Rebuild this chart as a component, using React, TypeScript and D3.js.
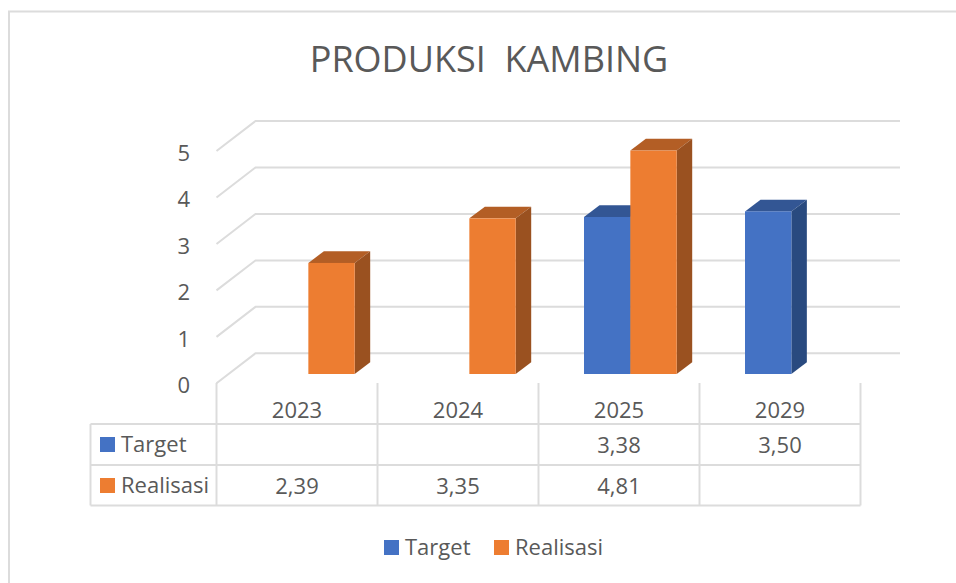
import React from "react";
import * as d3 from "d3";

const categories = ["2023", "2024", "2025", "2029"];
const seriesNames = ["Target", "Realisasi"];
const target = [null, null, 3.38, 3.5];
const realisasi = [2.39, 3.35, 4.81, null];
const tickValues = [0, 1, 2, 3, 4, 5];
const tableTarget = ["", "", "3,38", "3,50"];
const tableRealisasi = ["2,39", "3,35", "4,81", ""];

const colors = ["#4472C4", "#ED7D31"];
const topColors = ["#335694", "#B35E25"];
const sideColors = ["#294A7F", "#9A5120"];
const gridColor = "#DCDCDC";
const textColor = "#595959";
const font = "'Open Sans', 'Noto Sans', sans-serif";

export default function App() {
  const width = 956;
  const height = 583;

  // front edge of the 3D floor
  const x = d3.scaleBand().domain(categories).range([216.5, 860.5]);
  const x1 = d3.scaleBand().domain(seriesNames).range([45.5, 138.2]);
  const y = d3.scaleLinear().domain([0, 5]).range([383.3, 151]);

  // wall offset and bar depth
  const wallX = 39;
  const wallY = -30;
  const depthX = 15.5;
  const depthY = -11.7;
  const barShift = -9.3;

  const tableLeft = 90.5;
  const rows = [424, 465, 505.5];

  const bars = [target, realisasi].flatMap((values, s) =>
    values.map((v, i) => ({ v, s, cat: categories[i] })).filter((d) => d.v !== null)
  );

  return (
    <svg
      width={width}
      height={height}
      style={{ position: "absolute", left: 0, top: 0, background: "#fff" }}
      fontFamily={font}
    >
      {/* frame */}
      <path d={`M956,11.5H9V583`} fill="none" stroke={gridColor} strokeWidth={2} />

      <text x={489} y={72} textAnchor="middle" fontSize={36} fill={textColor} style={{ whiteSpace: "pre" }}>
        PRODUKSI  KAMBING
      </text>

      {/* wall gridlines */}
      {tickValues.map((t) => (
        <path
          key={t}
          d={`M${x.range()[0]},${y(t)}L${x.range()[0] + wallX},${y(t) + wallY}H900`}
          fill="none"
          stroke={gridColor}
          strokeWidth={2}
        />
      ))}

      {tickValues.map((t) => (
        <text key={t} x={190} y={y(t) + 10} textAnchor="end" fontSize={22} fill={textColor}>
          {t}
        </text>
      ))}

      {/* bars */}
      {bars.map((d) => {
        const x0 = x(d.cat)! + x1(seriesNames[d.s])!;
        const w = x1.bandwidth();
        const base = y(0) + barShift;
        const top = y(d.v as number) + barShift;
        return (
          <g key={`${d.s}-${d.cat}`}>
            <path
              d={`M${x0},${top}l${depthX},${depthY}h${w}l${-depthX},${-depthY}z`}
              fill={topColors[d.s]}
            />
            <path
              d={`M${x0 + w},${top}l${depthX},${depthY}V${base + depthY}l${-depthX},${-depthY}z`}
              fill={sideColors[d.s]}
            />
            <rect x={x0} y={top} width={w} height={base - top} fill={colors[d.s]} />
          </g>
        );
      })}

      {/* data table */}
      {[...x.domain().map((c) => x(c)!), x.range()[1]].map((xv, i) => (
        <line key={i} x1={xv} x2={xv} y1={383} y2={rows[2]} stroke={gridColor} strokeWidth={2} />
      ))}
      <line x1={tableLeft} x2={tableLeft} y1={rows[0]} y2={rows[2]} stroke={gridColor} strokeWidth={2} />
      {rows.map((r) => (
        <line key={r} x1={tableLeft} x2={x.range()[1]} y1={r} y2={r} stroke={gridColor} strokeWidth={2} />
      ))}

      {categories.map((c) => (
        <text key={c} x={x(c)! + x.bandwidth() / 2} y={418} textAnchor="middle" fontSize={22} fill={textColor}>
          {c}
        </text>
      ))}
      {[tableTarget, tableRealisasi].map((vals, s) => (
        <g key={s}>
          <rect x={100} y={rows[s] + 13} width={15} height={15} fill={colors[s]} />
          <text x={121} y={rows[s] + 28} fontSize={22} fill={textColor}>
            {seriesNames[s]}
          </text>
          {vals.map((v, i) => (
            <text
              key={i}
              x={x(categories[i])! + x.bandwidth() / 2}
              y={rows[s] + 29}
              textAnchor="middle"
              fontSize={22}
              fill={textColor}
            >
              {v}
            </text>
          ))}
        </g>
      ))}

      {/* legend */}
      {[384, 494].map((lx, s) => (
        <g key={lx}>
          <rect x={lx} y={540} width={15} height={15} fill={colors[s]} />
          <text x={lx + 21} y={555} fontSize={22} fill={textColor}>
            {seriesNames[s]}
          </text>
        </g>
      ))}
    </svg>
  );
}
